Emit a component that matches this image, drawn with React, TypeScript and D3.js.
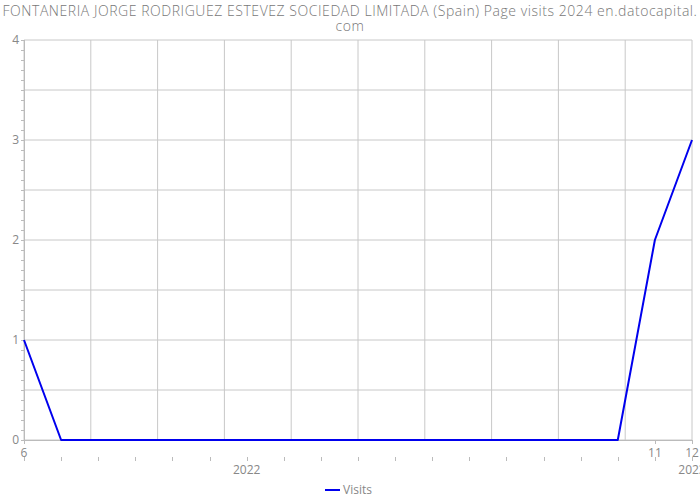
import React from 'react';
import * as d3 from 'd3';

const monthLabels = ['6', '7', '8', '9', '10', '11', '12', '1', '2', '3', '4', '5', '6', '7', '8', '9', '10', '11', '12'];
const visits = [1, 0, 0, 0, 0, 0, 0, 0, 0, 0, 0, 0, 0, 0, 0, 0, 0, 2, 3];
const shownMonthIdx = [0, 17, 18];
const yearLabels = [{ idx: 6, label: '2022' }, { idx: 18, label: '2023' }];
const yTicks = [0, 1, 2, 3, 4];
const title1 = 'FONTANERIA JORGE RODRIGUEZ ESTEVEZ SOCIEDAD LIMITADA (Spain) Page visits 2024 en.datocapital.';
const title2 = 'com';
const seriesName = 'Visits';

const W = 700, H = 500;
const left = 24, right = 692, top = 40, bottom = 440;
const font = "'Open Sans', 'DejaVu Sans', sans-serif";

export default function App() {
  const x = d3.scaleLinear().domain([0, monthLabels.length - 1]).range([left, right]);
  const y = d3.scaleLinear().domain([0, 4]).range([bottom, top]);
  const line = d3.line<number>().x((_, i) => x(i)).y(d => y(d));
  const gridY = d3.range(0, 4.01, 0.5);
  const minorY = d3.range(0, 4.001, 0.1);
  const gridX = d3.range(0, 11).map(i => left + (i * (right - left)) / 10);
  const gray = '#888';
  return (
    <svg width={W} height={H} style={{ position: 'absolute', left: 0, top: 0 }} fontFamily={font}>
      <rect width={W} height={H} fill="#fff" />
      <text x={W / 2} y={16} textAnchor="middle" fontSize={14} letterSpacing={0.55} fill="#777" fontWeight={300}>{title1}</text>
      <text x={W / 2} y={31} textAnchor="middle" fontSize={14} letterSpacing={0.55} fill="#777" fontWeight={300}>{title2}</text>
      {gridY.map(v => (
        <line key={'gy' + v} x1={left} x2={right} y1={y(v)} y2={y(v)} stroke="#c8c8c8" strokeWidth={1} />
      ))}
      {gridX.map((gx, i) => (
        <line key={'gx' + i} x1={gx} x2={gx} y1={top} y2={bottom} stroke="#c8c8c8" strokeWidth={1} />
      ))}
      {minorY.map((v, i) => (
        <line key={'my' + i} x1={left - 3} x2={left} y1={Math.round(y(v)) + 0.5} y2={Math.round(y(v)) + 0.5} stroke="#bbb" />
      ))}
      <line x1={left + 0.5} x2={left + 0.5} y1={top} y2={bottom} stroke="#bbb" />
      <line x1={left} x2={right} y1={bottom + 0.5} y2={bottom + 0.5} stroke="#bbb" />
      {yTicks.map(v => (
        <text key={'yl' + v} x={left - 5} y={y(v) + 4} textAnchor="end" fontSize={12} fill={gray}>{v}</text>
      ))}
      {shownMonthIdx.map(i => (
        <g key={'mt' + i}>
          <line x1={Math.round(x(i)) + 0.5} x2={Math.round(x(i)) + 0.5} y1={bottom} y2={bottom + 4} stroke="#bbb" />
          <text x={x(i)} y={457} textAnchor="middle" fontSize={12} fill={gray}>{monthLabels[i]}</text>
        </g>
      ))}
      {monthLabels.map((_, i) => (
        <line key={'yt' + i} x1={Math.round(x(i)) + 0.5} x2={Math.round(x(i)) + 0.5} y1={457} y2={461} stroke="#bbb" />
      ))}
      {yearLabels.map(d => (
        <text key={'yr' + d.idx} x={x(d.idx)} y={474} textAnchor="middle" fontSize={12} fill={gray}>{d.label}</text>
      ))}
      <path d={line(visits) || ''} fill="none" stroke="#0000ee" strokeWidth={2} strokeLinejoin="round" />
      <line x1={325} x2={340} y1={490} y2={490} stroke="#0000ee" strokeWidth={2} />
      <text x={343} y={494} fontSize={12} fill={gray}>{seriesName}</text>
    </svg>
  );
}
